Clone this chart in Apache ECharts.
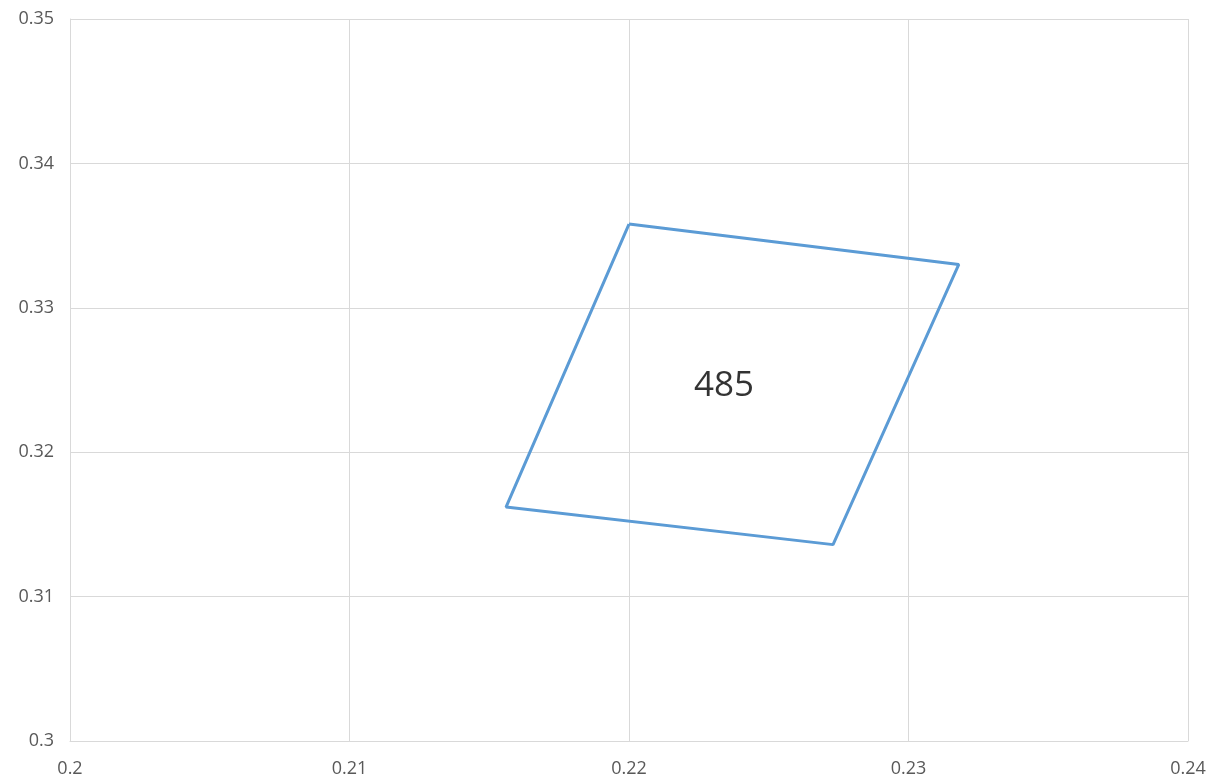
<!DOCTYPE html>
<html>
<head>
<meta charset="utf-8">
<script src="https://cdn.jsdelivr.net/npm/echarts@6/dist/echarts.min.js"></script>
<style>html,body{margin:0;padding:0;background:#fff}#c{width:1216px;height:784px}</style>
</head>
<body>
<div id="c"></div>
<script>
const xs = [0.2200, 0.2318, 0.2273, 0.2156, 0.2200];
const ys = [0.3358, 0.3330, 0.3136, 0.3162, 0.3358];
const labelText = "485";
const labelPos = [0.2234, 0.3246];
const xTicks = [0.2, 0.21, 0.22, 0.23, 0.24];
const yTicks = [0.3, 0.31, 0.32, 0.33, 0.34, 0.35];

const chart = echarts.init(document.getElementById('c'));
const gridColor = '#d9d9d9';
const axisCommon = {
  type: 'value',
  axisLine: {show: true, lineStyle: {color: gridColor, width: 1}},
  axisTick: {show: false},
  splitLine: {show: true, lineStyle: {color: gridColor, width: 1}},
  axisLabel: {color: '#595959', fontSize: 18, fontFamily: 'Open Sans, sans-serif'}
};
chart.setOption({
  animation: false,
  grid: {left: 70, right: 28, top: 19, bottom: 43, containLabel: false, outerBoundsMode: 'none'},
  xAxis: Object.assign({}, axisCommon, {
    min: xTicks[0], max: xTicks[xTicks.length - 1], interval: 0.01,
    axisLabel: Object.assign({}, axisCommon.axisLabel, {margin: 19, formatter: v => String(+v.toFixed(2))})
  }),
  yAxis: Object.assign({}, axisCommon, {
    min: yTicks[0], max: yTicks[yTicks.length - 1], interval: 0.01,
    axisLabel: Object.assign({}, axisCommon.axisLabel, {margin: 16, formatter: v => String(+v.toFixed(2))})
  }),
  series: [
    {
      type: 'line',
      data: xs.map((x, i) => [x, ys[i]]),
      symbol: 'none',
      lineStyle: {color: '#5b9bd5', width: 3},
      z: 3
    },
    {
      type: 'scatter',
      data: [labelPos],
      symbolSize: 0,
      label: {show: true, position: 'inside', formatter: labelText, fontSize: 35, color: '#000', fontFamily: 'Open Sans, sans-serif'},
      z: 4
    }
  ]
});
</script>
</body>
</html>
